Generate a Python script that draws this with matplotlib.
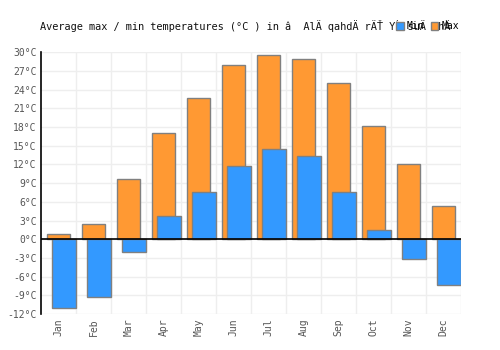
import numpy as np
import matplotlib.pyplot as plt
from matplotlib.ticker import FixedLocator

months = ['Jan', 'Feb', 'Mar', 'Apr', 'May', 'Jun', 'Jul', 'Aug', 'Sep', 'Oct', 'Nov', 'Dec']
max_temp = [0.9, 2.5, 9.6, 17.1, 22.6, 28.0, 29.6, 29.0, 25.1, 18.2, 12.0, 5.4]
min_temp = [-11.1, -9.35, -2.1, 3.7, 7.5, 11.8, 14.4, 13.3, 7.65, 1.55, -3.1, -7.4]
y_ticks = list(range(-12, 31, 3))
title = 'Average max / min temperatures (°C ) in â  AlÄ qahdÄ rÄŤ YĹ suÄ KhÄ'

plt.rcParams['font.family'] = ['DejaVu Sans Mono']

fig = plt.figure(figsize=(5, 3.5), dpi=100)
ax = fig.add_axes([0.082, 0.1029, 0.84, 0.7477])

x = np.arange(len(months))
# max bars first, min bars drawn over them, shifted right
b_max = ax.bar(x - 0.01, max_temp, width=0.66, color='#ff9933', edgecolor='#808080', linewidth=1, zorder=3, label='Max')
b_min = ax.bar(x + 0.15, min_temp, width=0.69, color='#3399ff', edgecolor='#808080', linewidth=1, zorder=4, label='Min')

ax.axhline(0, color='black', linewidth=1.2, zorder=5)

ax.set_xlim(-0.5, 11.5)
ax.set_ylim(-12, 30)
ax.set_xticks(x)
ax.set_xticklabels(months, rotation=90)
ax.xaxis.set_minor_locator(FixedLocator(np.arange(0.5, 12, 1)))
ax.set_yticks(y_ticks)
ax.set_yticklabels([f'{t}°C' for t in y_ticks])
ax.tick_params(axis='both', length=0, labelsize=7, colors='#555555', pad=3)
ax.tick_params(axis='x', which='minor', length=0)

ax.grid(True, axis='y', color='#eeeeee', linewidth=1, zorder=0)
ax.grid(True, axis='x', which='minor', color='#eeeeee', linewidth=1, zorder=0)
for s in ['top', 'right', 'bottom']:
    ax.spines[s].set_visible(False)
ax.spines['left'].set_color('black')
ax.spines['left'].set_linewidth(1.2)

fig.text(0.08, 0.925, title, fontsize=7.4, color='#111111', ha='left', va='center')

fig.legend(handles=[b_min, b_max], labels=['Min', 'Max'], loc='center left', bbox_to_anchor=(0.783, 0.925),
           ncol=2, frameon=False, fontsize=7, handlelength=0.8, handleheight=0.8, handletextpad=0.3,
           columnspacing=0.6, borderpad=0)

plt.savefig('out.png', dpi=100)
